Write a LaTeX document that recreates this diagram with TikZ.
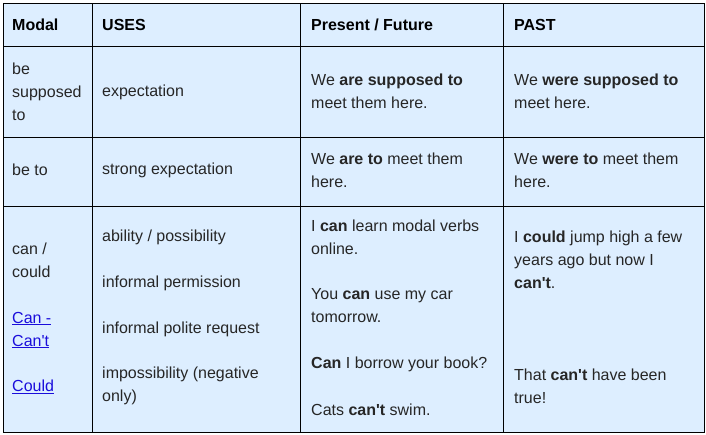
\documentclass[tikz,border=0pt]{standalone}
\usepackage{fontspec}
\setmainfont{Liberation Sans}
\definecolor{cellblue}{HTML}{DDEEFF}
\definecolor{linkblue}{HTML}{1A0DDB}
\newcommand{\apos}{\textquotesingle}
\tikzset{
  cell/.style = {anchor=west, inner sep=0pt, align=left,
    font=\fontsize{16}{23}\selectfont, text=black!85},
  head/.style = {cell, font=\fontsize{16}{23}\selectfont\bfseries, text=black},
  link/.style = {cell, text=linkblue}
}
\begin{document}
\begin{tikzpicture}[x=1pt,y=-1pt]
\useasboundingbox (0,0) rectangle (706,434);
\fill[cellblue] (3,3) rectangle (704,432);
% grid
\draw[line width=1pt] (3,3) rectangle (704,432);
\foreach \x in {92,300,503} \draw[line width=1pt] (\x,3) -- (\x,432);
\foreach \y in {46,137,206} \draw[line width=1pt] (3,\y) -- (704,\y);
% header
\node[head] (hmodal) at (12,25) {Modal};
\node[head] (huses) at (102,25) {USES};
\node[head] (hpres) at (311,25) {Present / Future};
\node[head] (hpast) at (514,25) {PAST};
% row 1
\node[cell] (m1) at (12,92) {be\\supposed\\to};
\node[cell] (u1) at (102,92) {expectation};
\node[cell] (p1) at (311,91) {We \textbf{are supposed to}\\meet them here.};
\node[cell] (q1) at (514,91) {We \textbf{were supposed to}\\meet here.};
% row 2
\node[cell] (m2) at (12,170) {be to};
\node[cell] (u2) at (102,170) {strong expectation};
\node[cell] (p2) at (311,170) {We \textbf{are to} meet them\\here.};
\node[cell] (q2) at (514,170) {We \textbf{were to} meet them\\here.};
% row 3
\node[cell] (m3) at (12,260) {can /\\could};
\node[link] (l1) at (12,330) {\underline{Can -}\\\underline{Can\apos t}};
\node[link] (l2) at (12,387) {\underline{Could}};
\node[cell] (u3a) at (102,237) {ability / possibility};
\node[cell] (u3b) at (102,283) {informal permission};
\node[cell] (u3c) at (102,329) {informal polite request};
\node[cell] (u3d) at (102,386) {impossibility (negative\\only)};
\node[cell] (p3a) at (311,237) {I \textbf{can} learn modal verbs\\online.};
\node[cell] (p3b) at (311,306) {You \textbf{can} use my car\\tomorrow.};
\node[cell] (p3c) at (311,364) {\textbf{Can} I borrow your book?};
\node[cell] (p3d) at (311,410) {Cats \textbf{can\apos t} swim.};
\node[cell] (q3a) at (514,260) {I \textbf{could} jump high a few\\years ago but now I\\\textbf{can\apos t}.};
\node[cell] (q3b) at (514,386) {That \textbf{can\apos t} have been\\true!};
\end{tikzpicture}
\end{document}
